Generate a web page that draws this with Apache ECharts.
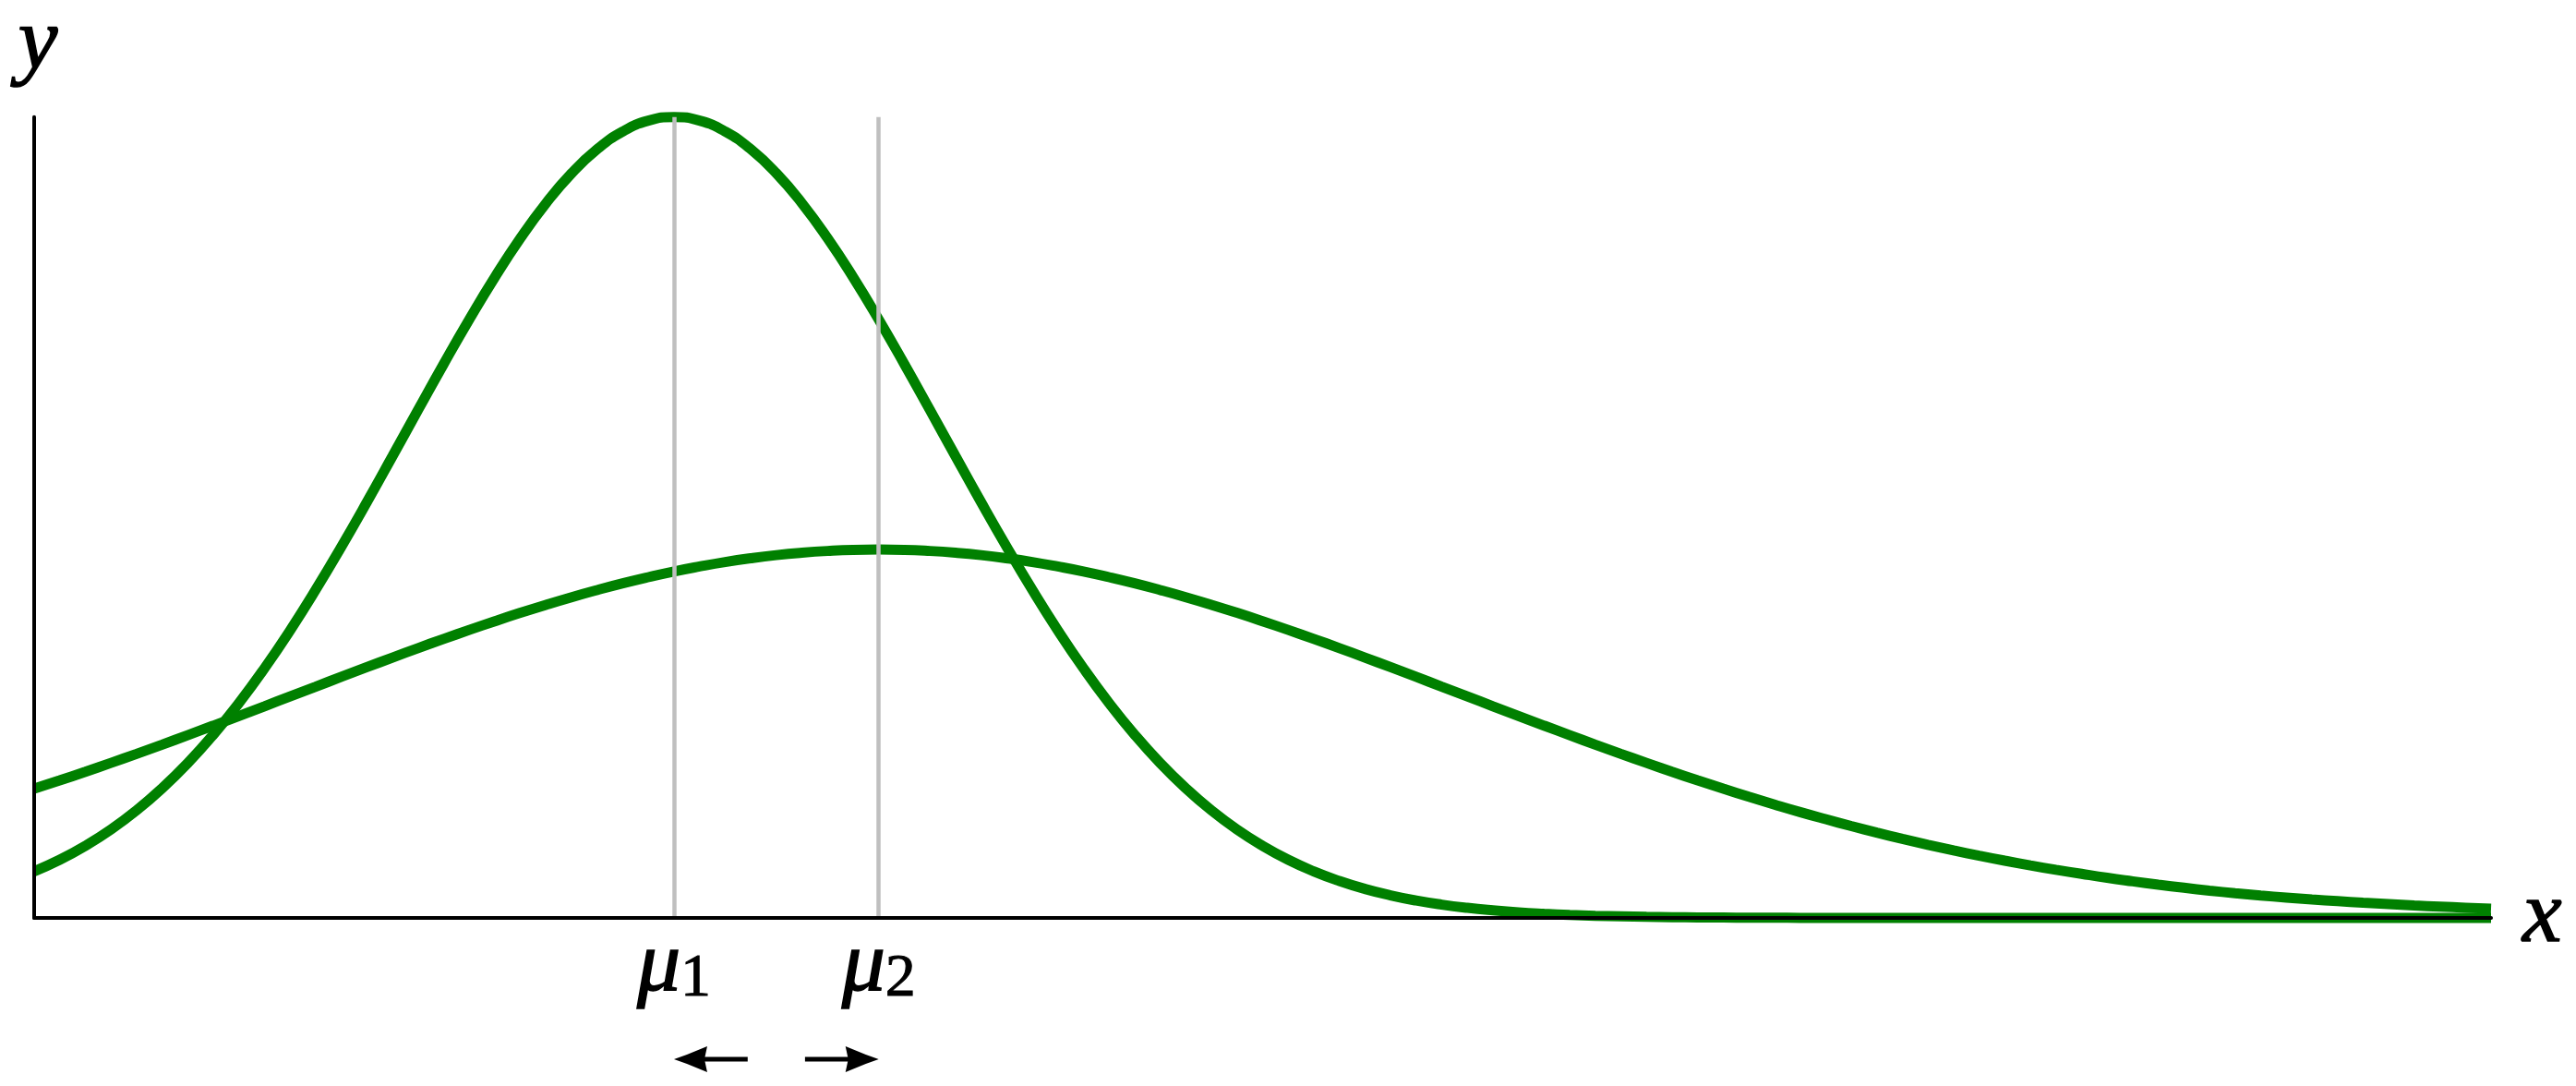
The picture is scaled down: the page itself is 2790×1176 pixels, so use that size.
<!DOCTYPE html>
<html>
<head>
<meta charset="utf-8">
<script src="https://cdn.jsdelivr.net/npm/echarts@6/dist/echarts.min.js"></script>
<style>
  html, body { margin: 0; padding: 0; background: #fff; }
  #chart { width: 2790px; height: 1176px; }
</style>
</head>
<body>
<div id="chart"></div>
<script>
// x positions (mu1 = 0, mu2 = 1)
const xs = [-3.125, -3, -2.875, -2.75, -2.625, -2.5, -2.375, -2.25, -2.125, -2, -1.875, -1.75, -1.625,
  -1.5, -1.375, -1.25, -1.125, -1, -0.875, -0.75, -0.625, -0.5, -0.375, -0.25, -0.125, 0,
  0.125, 0.25, 0.375, 0.5, 0.625, 0.75, 0.875, 1, 1.125, 1.25, 1.375, 1.5, 1.625, 1.75, 1.875, 2,
  2.125, 2.25, 2.375, 2.5, 2.625, 2.75, 2.875, 3, 3.125, 3.25, 3.375, 3.5, 3.625, 3.75, 3.875, 4,
  4.125, 4.25, 4.375, 4.5, 4.625, 4.75, 4.875, 5, 5.125, 5.25, 5.375, 5.5, 5.625, 5.75, 5.875, 6,
  6.125, 6.25, 6.375, 6.5, 6.625, 6.75, 6.875, 7, 7.125, 7.25, 7.375, 7.5, 7.625, 7.75, 7.875, 8,
  8.125, 8.25, 8.375, 8.5, 8.625, 8.75, 8.875];

// narrow curve, peak at mu1
const narrow = [0.0581, 0.0726, 0.0900, 0.1104, 0.1343, 0.1619, 0.1933, 0.2288, 0.2683, 0.3118, 0.3590, 0.4097, 0.4633,
  0.5191, 0.5765, 0.6343, 0.6916, 0.7472, 0.8000, 0.8488, 0.8924, 0.9298, 0.9599, 0.9820, 0.9955, 1,
  0.9955, 0.9820, 0.9599, 0.9298, 0.8924, 0.8488, 0.8000, 0.7472, 0.6916, 0.6343, 0.5765, 0.5191, 0.4633, 0.4097, 0.3590, 0.3118,
  0.2683, 0.2288, 0.1933, 0.1619, 0.1343, 0.1104, 0.0900, 0.0726, 0.0581, 0.0461, 0.0362, 0.0282, 0.0217, 0.0166, 0.0126, 0.0095,
  0.0070, 0.0052, 0.0038, 0.0027, 0.0020, 0.0014, 0.0010, 0.0007, 0.0005, 0.0003, 0.0002, 0.0001, 0, 0, 0, 0,
  0, 0, 0, 0, 0, 0, 0, 0, 0, 0, 0, 0, 0, 0, 0, 0,
  0, 0, 0, 0, 0, 0, 0];

// wide curve, peak at mu2
const wide = [0.1614, 0.1718, 0.1825, 0.1936, 0.2048, 0.2164, 0.2282, 0.2401, 0.2522, 0.2643, 0.2766, 0.2888, 0.3010,
  0.3131, 0.3251, 0.3369, 0.3484, 0.3596, 0.3705, 0.3810, 0.3910, 0.4005, 0.4094, 0.4178, 0.4255, 0.4326,
  0.4388, 0.4444, 0.4491, 0.4530, 0.4560, 0.4582, 0.4596, 0.4600, 0.4596, 0.4582, 0.4560, 0.4530, 0.4491, 0.4444, 0.4388, 0.4326,
  0.4255, 0.4178, 0.4094, 0.4005, 0.3910, 0.3810, 0.3705, 0.3596, 0.3484, 0.3369, 0.3251, 0.3131, 0.3010, 0.2888, 0.2766, 0.2643,
  0.2522, 0.2401, 0.2282, 0.2164, 0.2048, 0.1936, 0.1825, 0.1718, 0.1614, 0.1513, 0.1416, 0.1322, 0.1233, 0.1147, 0.1065, 0.0987,
  0.0913, 0.0843, 0.0777, 0.0715, 0.0656, 0.0601, 0.0550, 0.0501, 0.0457, 0.0415, 0.0377, 0.0341, 0.0309, 0.0280, 0.0254, 0.0230,
  0.0210, 0.0190, 0.0172, 0.0155, 0.0141, 0.0128, 0.0115];

const meanPos = [0, 1];
const meanSub = ["1", "2"];
const arrowFrom = [0.36, 0.64];
const arrowTo = [0, 1];

const chart = echarts.init(document.getElementById("chart"));

const green = "#008000";
const serif = "Liberation Serif";
// slightly heavier glyphs
const ink = { color: "#000", textBorderColor: "#000", textBorderWidth: 1.5 };

const option = {
  animation: false,
  grid: { left: 37, right: 92, top: 120, bottom: 182 },
  xAxis: {
    type: "value",
    min: -3.125,
    max: 8.875,
    z: 5,
    name: "x",
    nameLocation: "end",
    nameGap: 34,
    nameTextStyle: { fontFamily: serif, fontStyle: "italic", fontSize: 96, padding: [0, 0, 22, 0], ...ink },
    axisLine: { show: true, onZero: false, lineStyle: { color: "#000", width: 4 } },
    axisTick: { show: false },
    axisLabel: { show: false },
    splitLine: { show: false },
  },
  yAxis: {
    type: "value",
    min: 0,
    max: 1,
    z: 5,
    name: "y",
    nameLocation: "end",
    nameGap: 30,
    nameTextStyle: { fontFamily: serif, fontStyle: "italic", fontSize: 96, align: "center", padding: [0, 0, 0, 8], ...ink },
    axisLine: { show: true, onZero: false, lineStyle: { color: "#000", width: 4 } },
    axisTick: { show: false },
    axisLabel: { show: false },
    splitLine: { show: false },
  },
  series: [
    {
      type: "line",
      data: xs.map((x, i) => [x, narrow[i]]),
      smooth: true,
      symbol: "none",
      clip: false,
      lineStyle: { color: green, width: 11 },
      markLine: {
        silent: true,
        symbol: "none",
        z: 4,
        lineStyle: { color: "#bfbfbf", width: 4.5, type: "solid" },
        label: {
          position: "start",
          distance: 6,
          rich: {
            m: { fontFamily: serif, fontStyle: "italic", fontSize: 94, lineHeight: 94, padding: [0, 0, 26, 0], verticalAlign: "top", ...ink },
            s: { fontFamily: serif, fontSize: 66, lineHeight: 66, verticalAlign: "bottom", ...ink, textBorderWidth: 1 },
          },
        },
        data: meanPos.map((v, i) => ({
          xAxis: v,
          label: { formatter: "{m|μ}{s|" + meanSub[i] + "}" },
        })),
      },
    },
    {
      type: "line",
      data: xs.map((x, i) => [x, wide[i]]),
      smooth: true,
      symbol: "none",
      clip: false,
      lineStyle: { color: green, width: 11 },
    },
  ],
};

chart.setOption(option);

// shift arrows under the means
const arrowY = 1147;
const arrows = arrowFrom.map((from, i) => {
  const x0 = chart.convertToPixel({ xAxisIndex: 0 }, from);
  const x1 = chart.convertToPixel({ xAxisIndex: 0 }, arrowTo[i]);
  const dir = x1 > x0 ? 1 : -1;
  const headLen = 36;
  const back = x1 - dir * headLen;
  return {
    type: "group",
    children: [
      {
        type: "line",
        shape: { x1: x0, y1: arrowY, x2: x1 - dir * 30, y2: arrowY },
        style: { stroke: "#000", lineWidth: 5 },
      },
      {
        type: "polygon",
        shape: {
          points: [
            [x1, arrowY],
            [x1 - dir * 14, arrowY - 5],
            [back, arrowY - 14],
            [back + dir * 3, arrowY],
            [back, arrowY + 14],
            [x1 - dir * 14, arrowY + 5],
          ],
        },
        style: { fill: "#000" },
      },
    ],
  };
});
chart.setOption({ graphic: arrows });

window.addEventListener("resize", () => chart.resize());
</script>
</body>
</html>
